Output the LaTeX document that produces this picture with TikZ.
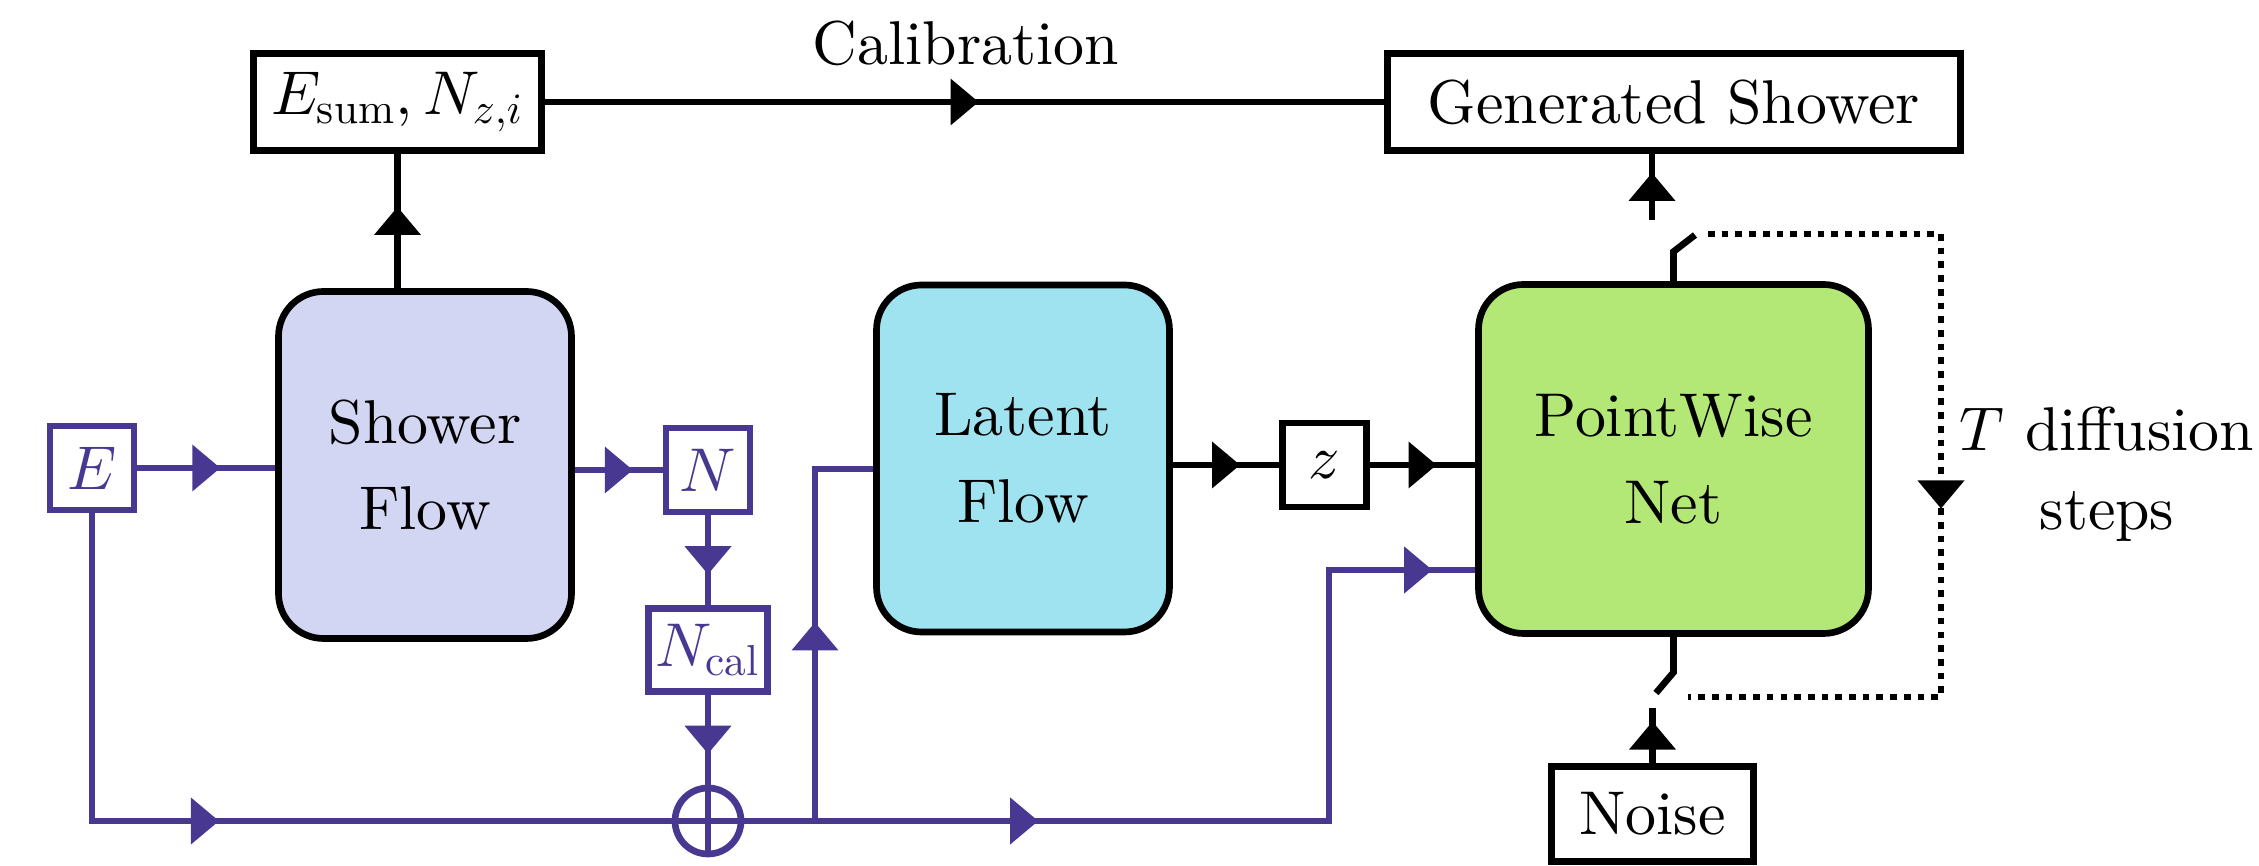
\documentclass[tikz,border=0pt]{standalone}
\usepackage{fontspec}
\usepackage{amsmath}
\setmainfont{lmroman10-regular.otf}[ItalicFont=lmroman10-italic.otf]
\DeclareFontShape{OML}{cmm}{m}{it}{<->cmmi10}{}
\usetikzlibrary{decorations.markings}

\definecolor{pcol}{HTML}{483892}
\definecolor{showerfill}{HTML}{D3D6F3}
\definecolor{latentfill}{HTML}{A0E3F0}
\definecolor{pwfill}{HTML}{B4E876}

\begin{document}
\begin{tikzpicture}[
	font=\fontsize{17.6}{22.5}\selectfont,
	wire/.style={line width=1.9pt},
	pwire/.style={wire, pcol},
	block/.style={draw, line width=1.9pt, rounded corners=0.45cm, minimum width=2.93cm, minimum height=3.47cm, align=center, font=\fontsize{17.6}{24.7}\selectfont},
	box/.style={draw, line width=1.9pt, minimum height=0.97cm, inner sep=0pt},
	pbox/.style={box, draw=pcol, text=pcol, minimum width=0.84cm, minimum height=0.84cm},
	arrowat/.style={postaction={decorate, decoration={markings, mark=at position #1 with {\fill (-0.14,-0.235) -- (0.14,0) -- (-0.14,0.235) -- cycle;}}}},
	arrowat/.default=0.5
	]
\useasboundingbox (0,0) rectangle (22.59,8.66);

\node[block, fill=showerfill] at (4.25,4.01) (shower){Shower\\Flow};
\node[block, fill=latentfill] at (10.23,4.075) (latent){Latent\\Flow};
\node[block, fill=pwfill, minimum width=3.90cm, minimum height=3.49cm] at (16.735,4.07) (pw){PointWise\\Net};

\node[box, minimum width=2.88cm] at (3.975,7.64) (esum){$E_{\mathrm{sum}}, N_{z,i}$};
\node[box, minimum width=5.73cm] at (16.74,7.64) (gen){Generated Shower};
\node[box, minimum width=2.02cm, minimum height=0.95cm] at (16.525,0.52) (noise){Noise};
\node[box, minimum width=0.84cm, minimum height=0.84cm] at (13.245,4.01) (z){$z$};

\node[pbox] at (0.92,3.98) (E){$E$};
\node[pbox] at (7.08,3.96) (N){$N$};
\node[pbox, minimum width=1.19cm, minimum height=0.83cm] at (7.08,2.16) (Ncal){$N_{\mathrm{cal}}$};
\node[draw=pcol, line width=1.9pt, circle, minimum size=0.66cm, inner sep=0pt] at (7.08,0.45) (sum){};

\node[anchor=base] at (9.66,8.01) (calib){Calibration};
\node[align=center] at (21.07,3.92) (steps){$T$ diffusion\\steps};

\coordinate (split) at (8.15,0.45);
\coordinate (bend) at (13.29,0.45);
\coordinate (outtop) at (16.52,6.46);
\coordinate (outbot) at (16.52,1.58);
\coordinate (swtop) at (16.95,6.31);
\coordinate (swbot) at (16.56,1.73);
\coordinate (looptop) at (17.08,6.32);
\coordinate (loopbot) at (16.88,1.69);

% calibration and output
\draw[wire, arrowat] (esum.south |- shower.north) -- (esum.south);
\draw[wire, arrowat] (esum.east) -- (gen.west);
\draw[wire, arrowat] (outtop) -- (outtop |- gen.south);
\draw[wire, arrowat] (z.west -| latent.east) -- (z.west);
\draw[wire, arrowat] (z.east) -- (z.east -| pw.west);
\draw[wire, arrowat] (noise.north) -- (noise.north |- outbot);

% switches and diffusion loop
\draw[wire] (pw.north) -- ++(0,0.295) -- (swtop);
\draw[wire] (pw.south) -- ++(0,-0.355) -- (swbot);
\draw[wire, dotted, arrowat=0.52] (looptop) -| (19.41,1.69) -- (loopbot);

% conditioning
\draw[pwire, arrowat] (E.east) -- (E.east -| shower.west);
\draw[pwire, arrowat] (N.west -| shower.east) -- (N.west);
\draw[pwire, arrowat] (N.south) -- (Ncal.north);
\draw[pwire, arrowat] (Ncal.south) -- (sum.north);
\draw[pwire] (sum.north) -- (sum.south) (sum.west) -- (sum.east);
\draw[pwire, arrowat=0.474] (E.south) |- (sum.west);
\draw[pwire, arrowat=0.285, arrowat=0.942] (sum.east) -- (bend) |- ([yshift=-1.11cm]pw.west);
\draw[pwire, arrowat=0.45] (split) |- ([yshift=-0.105cm]latent.west);

\end{tikzpicture}
\end{document}
